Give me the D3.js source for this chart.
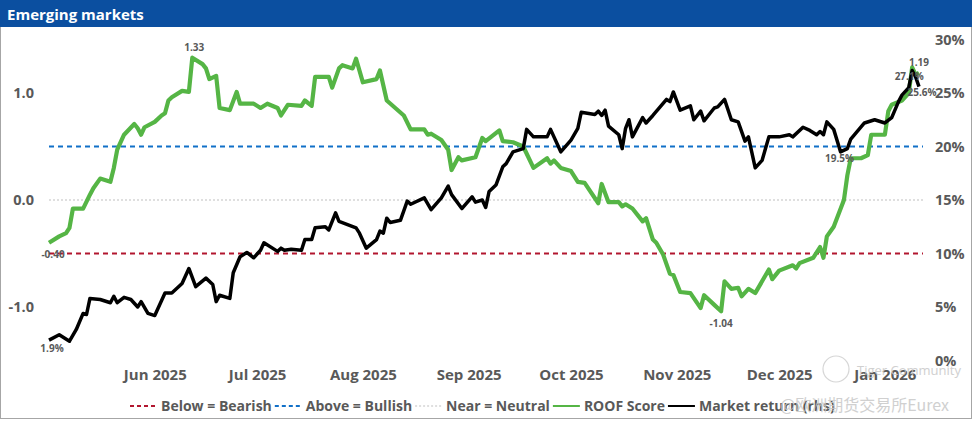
<!DOCTYPE html>
<html>
<head>
<meta charset="utf-8">
<script src="https://cdn.jsdelivr.net/npm/d3@7"></script>
<style>
body { margin: 0; background: #fff; }
svg text { font-family: "Open Sans", "Noto Sans", sans-serif; }
</style>
</head>
<body>
<div id="chart"></div>
<script>
const width = 975;
const height = 424;

// ROOF score (left axis)
const roofDates = ["2025-05-01","2025-05-04","2025-05-06","2025-05-07","2025-05-08","2025-05-11","2025-05-13","2025-05-14","2025-05-16","2025-05-19",
  "2025-05-20","2025-05-21","2025-05-23","2025-05-26","2025-05-27","2025-05-28","2025-05-29","2025-06-01","2025-06-03","2025-06-04",
  "2025-06-05","2025-06-06","2025-06-09","2025-06-11","2025-06-12","2025-06-15","2025-06-16","2025-06-17","2025-06-19","2025-06-20",
  "2025-06-23","2025-06-25","2025-06-26","2025-06-30","2025-07-02","2025-07-04","2025-07-07","2025-07-08","2025-07-10","2025-07-14",
  "2025-07-15","2025-07-17","2025-07-18","2025-07-22","2025-07-23","2025-07-25","2025-07-26","2025-07-29","2025-07-30","2025-08-01",
  "2025-08-05","2025-08-06","2025-08-08","2025-08-13","2025-08-15","2025-08-19","2025-08-20","2025-08-21","2025-08-24","2025-08-26",
  "2025-08-27","2025-08-29","2025-08-30","2025-09-03","2025-09-05","2025-09-06","2025-09-10","2025-09-11","2025-09-14","2025-09-17",
  "2025-09-20","2025-09-24","2025-09-25","2025-09-26","2025-09-28","2025-10-01","2025-10-03","2025-10-05","2025-10-09","2025-10-10",
  "2025-10-12","2025-10-15","2025-10-16","2025-10-17","2025-10-19","2025-10-22","2025-10-23","2025-10-25","2025-10-26","2025-10-28",
  "2025-10-30","2025-10-31","2025-11-02","2025-11-05","2025-11-08","2025-11-09","2025-11-12","2025-11-14","2025-11-15","2025-11-17",
  "2025-11-19","2025-11-20","2025-11-22","2025-11-24","2025-11-28","2025-11-29","2025-12-01","2025-12-05","2025-12-06","2025-12-07",
  "2025-12-11","2025-12-13","2025-12-14","2025-12-15","2025-12-17","2025-12-20","2025-12-21","2025-12-22","2025-12-25","2025-12-27",
  "2025-12-28","2026-01-01","2026-01-02","2026-01-03","2026-01-06","2026-01-08","2026-01-09","2026-01-10","2026-01-11"];
const roofScore = [-0.40,-0.34,-0.31,-0.26,-0.08,-0.08,0.05,0.11,0.20,0.17,
  0.30,0.47,0.61,0.71,0.67,0.61,0.68,0.73,0.79,0.81,
  0.93,0.96,1.02,1.01,1.33,1.27,1.23,1.13,1.16,0.86,
  0.84,1.01,0.90,0.90,0.86,0.90,0.86,0.79,0.89,0.88,
  0.93,0.88,1.15,1.15,1.05,1.23,1.26,1.23,1.32,1.10,
  1.13,1.21,0.93,0.79,0.66,0.66,0.61,0.62,0.56,0.47,
  0.28,0.40,0.37,0.40,0.58,0.55,0.65,0.55,0.54,0.50,
  0.30,0.39,0.34,0.37,0.30,0.27,0.17,0.16,-0.03,0.15,
  -0.02,-0.02,-0.06,-0.04,-0.08,-0.20,-0.17,-0.37,-0.40,-0.51,
  -0.69,-0.70,-0.86,-0.87,-1.01,-0.89,-0.98,-1.04,-0.76,-0.83,
  -0.82,-0.90,-0.83,-0.87,-0.65,-0.74,-0.66,-0.61,-0.64,-0.59,
  -0.54,-0.44,-0.54,-0.34,-0.25,0.00,0.23,0.39,0.39,0.42,
  0.61,0.61,0.83,0.89,0.93,1.00,1.24,1.17,1.19];

// Market return % (right axis)
const mktDates = ["2025-05-01","2025-05-04","2025-05-07","2025-05-09","2025-05-11","2025-05-12","2025-05-13","2025-05-16","2025-05-19","2025-05-20",
  "2025-05-21","2025-05-23","2025-05-25","2025-05-27","2025-05-28","2025-05-30","2025-06-01","2025-06-04","2025-06-06","2025-06-09",
  "2025-06-11","2025-06-13","2025-06-16","2025-06-18","2025-06-19","2025-06-20","2025-06-23","2025-06-24","2025-06-26","2025-06-28",
  "2025-06-30","2025-07-02","2025-07-03","2025-07-07","2025-07-08","2025-07-09","2025-07-11","2025-07-14","2025-07-15","2025-07-17",
  "2025-07-18","2025-07-21","2025-07-22","2025-07-24","2025-07-25","2025-07-30","2025-07-31","2025-08-02","2025-08-05","2025-08-06",
  "2025-08-07","2025-08-08","2025-08-09","2025-08-12","2025-08-14","2025-08-15","2025-08-19","2025-08-21","2025-08-24","2025-08-26",
  "2025-08-27","2025-08-30","2025-09-02","2025-09-03","2025-09-05","2025-09-06","2025-09-07","2025-09-09","2025-09-11","2025-09-12",
  "2025-09-14","2025-09-17","2025-09-18","2025-09-20","2025-09-24","2025-09-25","2025-09-28","2025-10-01","2025-10-03","2025-10-04",
  "2025-10-08","2025-10-09","2025-10-10","2025-10-11","2025-10-12","2025-10-15","2025-10-16","2025-10-17","2025-10-18","2025-10-19",
  "2025-10-22","2025-10-23","2025-10-25","2025-10-29","2025-10-30","2025-10-31","2025-11-02","2025-11-05","2025-11-06","2025-11-08",
  "2025-11-09","2025-11-11","2025-11-12","2025-11-13","2025-11-15","2025-11-17","2025-11-19","2025-11-21","2025-11-22","2025-11-24",
  "2025-11-26","2025-11-28","2025-12-01","2025-12-04","2025-12-05","2025-12-08","2025-12-10","2025-12-12","2025-12-13","2025-12-14",
  "2025-12-15","2025-12-17","2025-12-19","2025-12-21","2025-12-22","2025-12-26","2025-12-29","2026-01-01","2026-01-03","2026-01-05",
  "2026-01-06","2026-01-08","2026-01-09","2026-01-10","2026-01-11"];
const mktReturn = [1.9,2.4,1.8,2.9,4.4,4.3,5.8,5.7,5.4,6.0,
  5.4,5.9,5.7,5.0,5.5,4.4,4.2,6.3,6.3,7.2,
  8.6,6.9,7.7,7.1,5.5,6.1,5.8,8.2,9.7,10.1,
  9.6,10.3,11.0,10.2,10.5,10.3,10.4,10.3,11.3,11.3,
  12.4,12.5,12.2,13.8,13.0,12.4,11.9,10.5,11.3,12.1,
  11.9,13.3,12.9,13.1,14.9,14.6,15.2,14.1,15.2,16.3,
  15.5,14.2,15.3,14.8,15.0,14.3,15.8,16.4,18.1,18.4,
  19.5,19.8,21.6,20.9,20.9,21.6,19.5,20.6,21.7,23.2,
  23.0,23.3,22.9,23.4,21.9,21.1,19.8,21.7,22.5,20.9,
  22.7,22.2,22.9,24.4,24.2,25.1,23.4,23.8,22.5,23.3,
  22.4,23.2,23.6,23.7,24.4,22.5,22.3,20.5,20.9,18.0,
  18.7,20.9,20.9,21.1,20.9,21.8,21.5,21.1,21.4,21.1,
  22.3,21.6,19.5,19.8,20.7,22.2,22.5,22.2,22.7,24.2,
  24.8,25.5,27.1,26.5,25.6];

const monthTicks = ["2025-06-01","2025-07-01","2025-08-01","2025-09-01","2025-10-01","2025-11-01","2025-12-01","2026-01-01"];
const leftTicks = [-1, 0, 1];
const rightTicks = [0, 5, 10, 15, 20, 25, 30];
const thresholdValues = [-0.5, 0.5, 0];
const legendNames = ["Below = Bearish", "Above = Bullish", "Near = Neutral", "ROOF Score", "Market return (rhs)"];
const roofLabelDates = ["2025-05-01", "2025-06-12", "2025-11-14", "2026-01-11"];
const roofLabelText = ["-0.40", "1.33", "-1.04", "1.19"];
const mktLabelDates = ["2025-05-01", "2025-12-19", "2026-01-09", "2026-01-11"];
const mktLabelText = ["1.9%", "19.5%", "27.1%", "25.6%"];

const parse = d3.timeParse("%Y-%m-%d");
const grey = "#595959";
const green = "#55b545";

const svg = d3.select("#chart")
  .append("svg")
  .attr("width", width)
  .attr("height", height);

// frame + title
svg.append("rect")
  .attr("x", 0.5).attr("y", 0.5)
  .attr("width", 971).attr("height", 418)
  .attr("fill", "none").attr("stroke", "#a6a6a6");
svg.append("rect")
  .attr("x", 0).attr("y", 0)
  .attr("width", 972).attr("height", 27)
  .attr("fill", "#0b4fa0");
svg.append("text")
  .attr("x", 7).attr("y", 20)
  .attr("fill", "#fff")
  .attr("font-size", 15).attr("font-weight", 700)
  .text("Emerging markets");

const x = d3.scaleTime()
  .domain([parse("2025-05-01"), parse("2026-01-11")])
  .range([49, 919]);
const yL = d3.scaleLinear().domain([-1.5, 1.5]).range([360.5, 39.5]);
const yR = d3.scaleLinear().domain([0, 30]).range([360.5, 39.5]);

// axes
const axisL = svg.append("g")
  .attr("transform", "translate(34,0)")
  .call(d3.axisLeft(yL).tickValues(leftTicks).tickSize(0).tickPadding(0)
    .tickFormat(d => d.toFixed(1)));
const axisR = svg.append("g")
  .attr("transform", "translate(935,0)")
  .call(d3.axisRight(yR).tickValues(rightTicks).tickSize(0).tickPadding(0)
    .tickFormat(d => d + "%"));
const axisX = svg.append("g")
  .attr("transform", "translate(0,369)")
  .call(d3.axisBottom(x).tickValues(monthTicks.map(parse)).tickSize(0).tickPadding(0)
    .tickFormat(d3.timeFormat("%b %Y")));

[axisL, axisR, axisX].forEach(g => {
  g.select(".domain").remove();
  g.selectAll("text")
    .attr("fill", grey)
    .attr("font-weight", 700)
    .style("font-family", "'Open Sans', sans-serif");
});
axisL.selectAll("text").attr("font-size", 14.5);
axisR.selectAll("text").attr("font-size", 14.5);
axisX.selectAll("text").attr("font-size", 15);

// threshold lines
const thrStyle = [
  { color: "#b2162f", dash: "5,4", w: 2.2 },
  { color: "#1170c8", dash: "5,4", w: 2.2 },
  { color: "#bfbfbf", dash: "2,2", w: 1.2 }
];
svg.append("g")
  .selectAll("line")
  .data(thresholdValues)
  .join("line")
    .attr("x1", x.range()[0])
    .attr("x2", x.range()[1] + 4)
    .attr("y1", d => yL(d))
    .attr("y2", d => yL(d))
    .attr("stroke", (d, i) => thrStyle[i].color)
    .attr("stroke-width", (d, i) => thrStyle[i].w)
    .attr("stroke-dasharray", (d, i) => thrStyle[i].dash);

// series
const roof = roofDates.map((d, i) => ({ date: parse(d), v: roofScore[i] }));
const mkt = mktDates.map((d, i) => ({ date: parse(d), v: mktReturn[i] }));

svg.append("path")
  .datum(roof)
  .attr("fill", "none")
  .attr("stroke", green)
  .attr("stroke-width", 4.2)
  .attr("stroke-linejoin", "round")
  .attr("d", d3.line().x(d => x(d.date)).y(d => yL(d.v)));

svg.append("path")
  .datum(mkt)
  .attr("fill", "none")
  .attr("stroke", "#000")
  .attr("stroke-width", 3.5)
  .attr("stroke-linejoin", "round")
  .attr("d", d3.line().x(d => x(d.date)).y(d => yR(d.v)));

// data labels
const roofOff = [[4, 15], [2, -7], [0, 16], [0, -7]];
const mktOff = [[3, 12], [-1, 10], [-3, 9], [3, 9]];
const labels = svg.append("g")
  .attr("fill", grey)
  .attr("font-size", 10)
  .attr("font-weight", 700)
  .attr("text-anchor", "middle");
roofLabelDates.forEach((d, i) => {
  const v = roofScore[roofDates.indexOf(d)];
  labels.append("text")
    .attr("x", x(parse(d)) + roofOff[i][0])
    .attr("y", yL(v) + roofOff[i][1])
    .text(roofLabelText[i]);
});
mktLabelDates.forEach((d, i) => {
  const v = mktReturn[mktDates.indexOf(d)];
  labels.append("text")
    .attr("x", x(parse(d)) + mktOff[i][0])
    .attr("y", yR(v) + mktOff[i][1])
    .text(mktLabelText[i]);
});

// legend
const legStyle = [
  { color: "#b2162f", dash: "4,3", w: 2 },
  { color: "#1170c8", dash: "4,3", w: 2 },
  { color: "#bfbfbf", dash: "2,2", w: 1.2 },
  { color: green, dash: null, w: 2 },
  { color: "#000", dash: null, w: 2 }
];
const legend = svg.append("g").attr("class", "legend");
let lx = 130;
legendNames.forEach((name, i) => {
  legend.append("line")
    .attr("x1", lx).attr("x2", lx + 27)
    .attr("y1", 406).attr("y2", 406)
    .attr("stroke", legStyle[i].color)
    .attr("stroke-width", legStyle[i].w)
    .attr("stroke-dasharray", legStyle[i].dash);
  const t = legend.append("text")
    .attr("x", lx + 31).attr("y", 411)
    .attr("fill", grey)
    .attr("font-size", 14).attr("font-weight", 700)
    .text(name);
  lx += 31 + t.node().getComputedTextLength() + 3;
});

// faint watermarks
const wm = svg.append("g").attr("fill", "#c8c8c8").attr("opacity", 0.85);
wm.append("circle").attr("cx", 836).attr("cy", 369).attr("r", 13)
  .attr("fill", "none").attr("stroke", "#d0d0d0").attr("stroke-width", 1.2);
wm.append("text").attr("x", 857).attr("y", 375).attr("font-size", 13).text("Tiger Community");
wm.append("text").attr("x", 780).attr("y", 411).attr("font-size", 16)
  .style("font-family", "'Noto Sans CJK SC', sans-serif")
  .text("@欧洲期货交易所Eurex");
</script>
</body>
</html>
